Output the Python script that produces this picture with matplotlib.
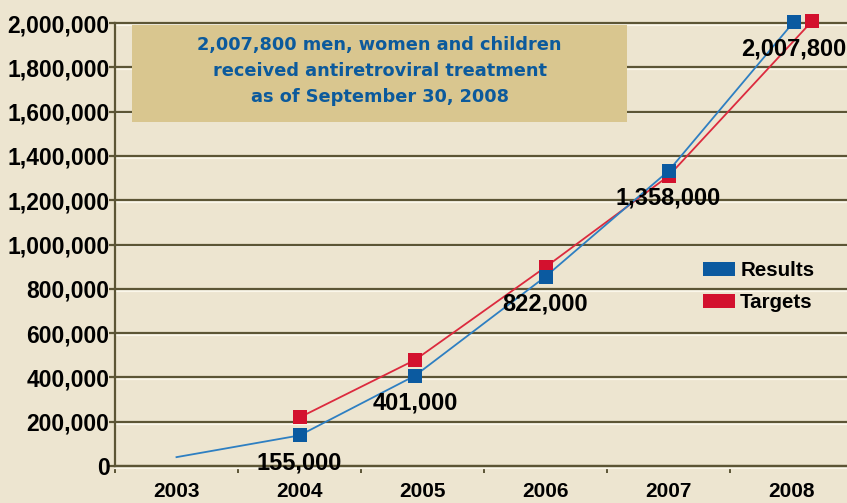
import matplotlib
matplotlib.use("Agg")
import matplotlib.pyplot as plt
from matplotlib.patches import Patch, Rectangle
from matplotlib import patheffects as pe

# ---- data ----
years = [2003, 2004, 2005, 2006, 2007, 2008]
results_x = [2003.5, 2004.5, 2005.44, 2006.5, 2007.5, 2008.52]
results_y = [40000, 138000, 408000, 855000, 1332000, 2006000]
targets_x = [2004.5, 2005.44, 2006.5, 2007.5, 2008.67]
targets_y = [219000, 479000, 898000, 1309000, 2010000]
result_labels = ["155,000", "401,000", "822,000", "1,358,000", "2,007,800"]
yticks = list(range(0, 2000001, 200000))
note = "2,007,800 men, women and children\nreceived antiretroviral treatment\nas of September 30, 2008"

BG = "#ede5d0"
GRID = "#5c5535"
BLUE_M = "#0b5aa0"
BLUE_L = "#2e7fc2"
RED_M = "#d3112e"
RED_L = "#dc2a3e"

W, H = 847, 503
fig = plt.figure(figsize=(W / 100, H / 100), dpi=100, facecolor=BG)
left, right, top, bottom = 115, 847, 23, 466
ax = fig.add_axes([left / W, (H - bottom) / H, (right - left) / W, (bottom - top) / H])
ax.set_facecolor(BG)

ax.set_xlim(2003, 2003 + (right - left) / 123)
ax.set_ylim(0, 2000000)

# grid
ax.set_yticks(yticks)
ax.set_yticklabels([f"{v:,}" for v in yticks], fontfamily="Liberation Sans",
                   fontweight="bold", fontsize=16.5)
ax.yaxis.grid(True, color=GRID, linewidth=1.6)
for gl in ax.get_ygridlines():
    gl.set_clip_on(False)
    gl.set_path_effects([pe.SimpleLineShadow(offset=(0, -1.3), shadow_color="#fbf7ea", alpha=1.0),
                         pe.Normal()])
ax.set_axisbelow(True)
ax.tick_params(axis="y", length=4, width=1.6, color=GRID, pad=0)

ax.set_xticks(years)
ax.set_xticklabels([])
ax.set_xticks([y + 0.5 for y in years], minor=True)
ax.set_xticklabels([str(y) for y in years], minor=True, fontfamily="Liberation Sans",
                   fontweight="bold", fontsize=15)
ax.tick_params(axis="x", which="major", length=5, width=1.4, color=GRID, direction="out")
ax.tick_params(axis="x", which="minor", length=0, pad=11.5)

for s in ["top", "right"]:
    ax.spines[s].set_visible(False)
for s in ["left", "bottom"]:
    ax.spines[s].set_color(GRID)
    ax.spines[s].set_linewidth(1.6)

# note box
ax.add_patch(Rectangle((17 / 732, (466 - 122) / 443), (627 - 132) / 732, 97 / 443,
                       transform=ax.transAxes, facecolor="#d9c68f", edgecolor="none", zorder=1.5))
ax.text((379.5 - 115) / 732, (466 - 71) / 443, note, transform=ax.transAxes,
        ha="center", va="center", fontfamily="DejaVu Sans", fontweight="bold",
        fontsize=12.8, color="#0c5a9c", linespacing=1.55, zorder=2)

# lines
ax.plot(targets_x, targets_y, color=RED_L, linewidth=1.3, zorder=3, clip_on=False)
ax.plot(results_x, results_y, color=BLUE_L, linewidth=1.3, zorder=3.5, clip_on=False)
ax.plot(targets_x, targets_y, linestyle="none", marker="s", markersize=10.5,
        markerfacecolor=RED_M, markeredgewidth=0, zorder=4, clip_on=False)
ax.plot(results_x[1:], results_y[1:], linestyle="none", marker="s", markersize=10.5,
        markerfacecolor=BLUE_M, markeredgewidth=0, zorder=5, clip_on=False)

for x, y, lab in zip(results_x[1:], results_y[1:], result_labels):
    ax.annotate(lab, (x, y), xytext=(0, -19.5), textcoords="offset points",
                ha="center", va="center", fontfamily="Liberation Sans", fontweight="bold",
                fontsize=17, color="black", zorder=6, annotation_clip=False)

# legend
handles = [Patch(facecolor=BLUE_M, edgecolor="none", label="Results"),
           Patch(facecolor=RED_M, edgecolor="none", label="Targets")]
fig.legend(handles=handles, loc="upper left", bbox_to_anchor=(703 / W, 1 - 261 / H),
           bbox_transform=fig.transFigure, frameon=False, borderpad=0, borderaxespad=0,
           handlelength=1.56, handleheight=0.68, handletextpad=0.25, labelspacing=0.65,
           prop={"family": "Liberation Sans", "weight": "bold", "size": 14.8})

fig.savefig("out.png", dpi=100, facecolor=BG)
